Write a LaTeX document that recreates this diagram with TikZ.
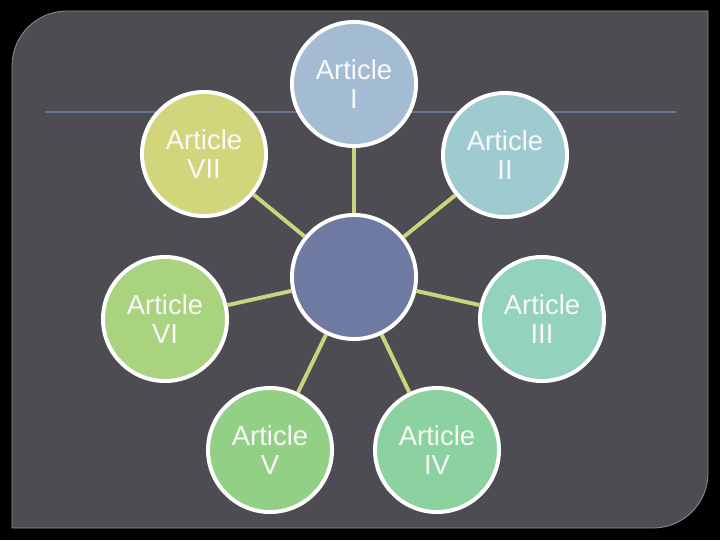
\documentclass[tikz,border=0pt]{standalone}
\usepackage{fontspec}
\setmainfont{Liberation Sans}
\definecolor{slidebg}{RGB}{77,76,82}
\definecolor{slideedge}{RGB}{140,140,144}
\definecolor{ruleline}{RGB}{106,117,146}
\definecolor{spoke}{RGB}{203,211,124}
\definecolor{hubfill}{RGB}{110,122,161}
\definecolor{artI}{RGB}{163,187,211}
\definecolor{artII}{RGB}{158,203,208}
\definecolor{artIII}{RGB}{147,210,190}
\definecolor{artIV}{RGB}{140,209,160}
\definecolor{artV}{RGB}{146,209,133}
\definecolor{artVI}{RGB}{169,211,127}
\definecolor{artVII}{RGB}{209,214,124}
\tikzset{
  article/.style={circle, draw=white, line width=2.8pt, minimum size=3.1cm,
    inner sep=0pt, align=center, text=white!95!gray,
    font=\fontsize{19.5}{20.6}\selectfont},
  spokeline/.style={draw=spoke, line width=2.8pt}
}
\begin{document}
\begin{tikzpicture}[x=0.025cm, y=0.025cm]
	\fill[black] (0,0) rectangle (720,540);
	\useasboundingbox (0,0) rectangle (720,540);
	% slide panel
	\filldraw[fill=slidebg, draw=slideedge, line width=0.6pt] (12,12) -- (12,474) arc[start angle=180, end angle=90, radius=1.375cm] -- (708,529) -- (708,67) arc[start angle=0, end angle=-90, radius=1.375cm] -- cycle;
	\draw[ruleline, line width=0.8pt] (45,428) -- (676,428);
	% hub and articles
	\node[article, fill=hubfill] (hub) at (354,263) {};
	\node[article, fill=artI] (a1) at (354,456) {Article\\I};
	\node[article, fill=artII] (a2) at (505,385) {Article\\II};
	\node[article, fill=artIII] (a3) at (542,221) {Article\\III};
	\node[article, fill=artIV] (a4) at (437,90) {Article\\IV};
	\node[article, fill=artV] (a5) at (270,90) {Article\\V};
	\node[article, fill=artVI] (a6) at (165,221) {Article\\VI};
	\node[article, fill=artVII] (a7) at (204,386) {Article\\VII};
	% spokes
	\path[spokeline] (hub) -- (a1);
	\path[spokeline] (hub) -- (a2);
	\path[spokeline] (hub) -- (a3);
	\path[spokeline] (hub) -- (a4);
	\path[spokeline] (hub) -- (a5);
	\path[spokeline] (hub) -- (a6);
	\path[spokeline] (hub) -- (a7);
\end{tikzpicture}
\end{document}
